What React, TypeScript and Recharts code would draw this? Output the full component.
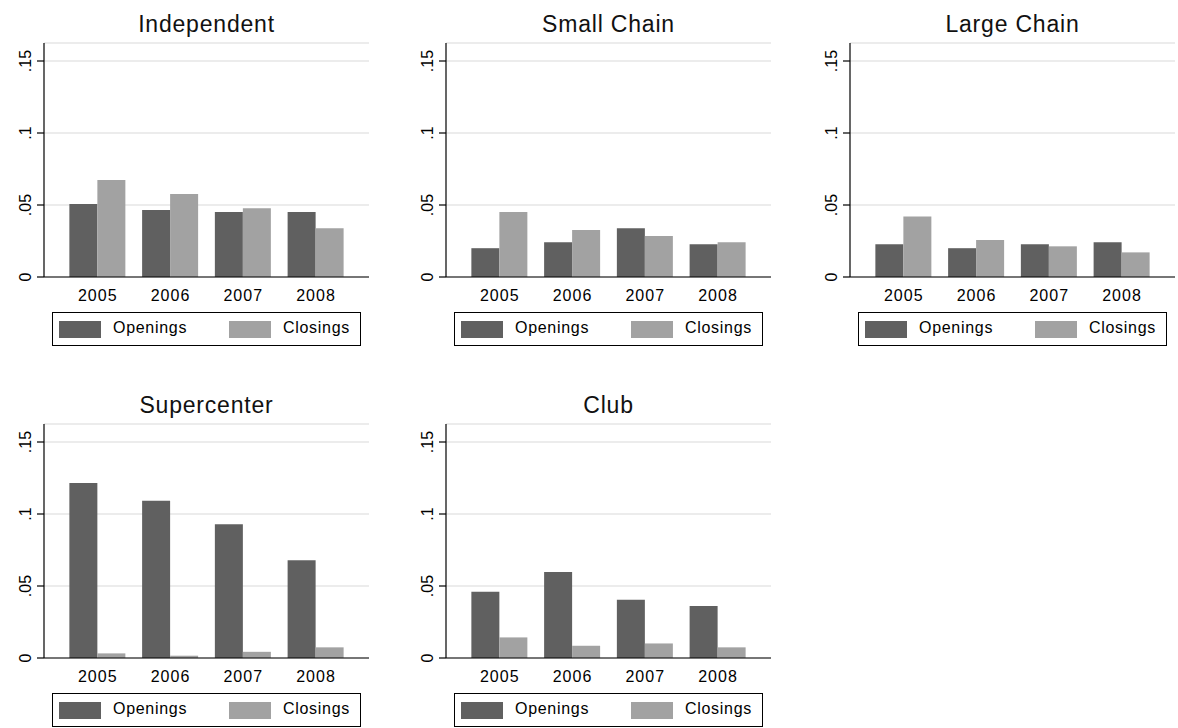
import { BarChart, Bar, XAxis, YAxis, CartesianGrid, Legend } from 'recharts';

const years = ['2005', '2006', '2007', '2008'];
const yTicks = [0, 0.05, 0.1, 0.15];
const yTickLabels = ['0', '.05', '.1', '.15'];
const seriesNames = ['Openings', 'Closings'];

const independentOpenings = [0.0507, 0.0465, 0.0451, 0.0451];
const independentClosings = [0.0674, 0.0576, 0.0477, 0.0338];
const smallChainOpenings = [0.02, 0.0241, 0.0338, 0.0227];
const smallChainClosings = [0.0451, 0.0326, 0.0285, 0.0241];
const largeChainOpenings = [0.0227, 0.02, 0.0227, 0.0241];
const largeChainClosings = [0.0421, 0.0257, 0.0213, 0.0171];
const supercenterOpenings = [0.1216, 0.1092, 0.0929, 0.0678];
const supercenterClosings = [0.0032, 0.0016, 0.0043, 0.0074];
const clubOpenings = [0.046, 0.0598, 0.0405, 0.0361];
const clubClosings = [0.0143, 0.0085, 0.0101, 0.0074];

const FONT = '"Liberation Sans", Arial, sans-serif';
const OPEN_COLOR = '#606060';
const CLOSE_COLOR = '#a2a2a2';

interface PanelProps {
  title: string;
  openings: number[];
  closings: number[];
  left: number;
  top: number;
}

const YTick = (props: any) => {
  const { x, y, payload } = props;
  const idx = yTicks.indexOf(payload.value);
  const tx = x - 6;
  return (
    <text x={tx} y={y} transform={`rotate(-90, ${tx}, ${y})`} textAnchor="middle" fontSize={16} fill="#000" fontFamily={FONT}>
      {idx >= 0 ? yTickLabels[idx] : payload.value}
    </text>
  );
};

const XTick = (props: any) => {
  const { x, y, payload } = props;
  return (
    <text x={x + 0.5} y={y + 24} textAnchor="middle" fontSize={16} letterSpacing={1.1} fill="#000" fontFamily={FONT}>
      {payload.value}
    </text>
  );
};

const LegendBox = (props: any) => {
  const items = [...(props.payload || [])].sort(
    (a: any, b: any) => seriesNames.indexOf(a.value) - seriesNames.indexOf(b.value)
  );
  const swatchX = [6, 176];
  const textX = [60, 230];
  return (
    <div style={{ position: 'relative', width: 309, height: 34, border: '1px solid #000', boxSizing: 'border-box', background: '#fff' }}>
      {items.map((item: any, i: number) => (
        <div key={item.value}>
          <div style={{ position: 'absolute', left: swatchX[i], top: 8, width: 42, height: 17, background: item.color }} />
          <div style={{ position: 'absolute', left: textX[i], top: 7, fontSize: 16, lineHeight: '16px', letterSpacing: 0.7, fontFamily: FONT, color: '#000', whiteSpace: 'nowrap' }}>
            {item.value}
          </div>
        </div>
      ))}
    </div>
  );
};

function Panel({ title, openings, closings, left, top }: PanelProps) {
  const data = years.map((year, i) => ({
    year,
    [seriesNames[0]]: openings[i],
    [seriesNames[1]]: closings[i],
  }));

  return (
    <div style={{ position: 'absolute', left, top, width: 390, height: 360 }}>
      <div style={{ position: 'absolute', left: 44, top: 13, width: 325, textAlign: 'center', fontSize: 23, lineHeight: '23px', letterSpacing: 0.8, color: '#111', fontFamily: FONT, whiteSpace: 'nowrap' }}>
        {title}
      </div>
      <BarChart width={390} height={360} data={data} margin={{ top: 43, right: 21, left: 0, bottom: 14 }} barCategoryGap="11.5%" barGap={0}>
        <CartesianGrid horizontal vertical={false} stroke="#e6e6e6" strokeWidth={1.5} />
        <XAxis
          dataKey="year"
          padding={{ left: 17, right: 17 }}
          height={35}
          tickLine={false}
          tickSize={0}
          tickMargin={0}
          axisLine={{ stroke: '#000', strokeWidth: 1.2 }}
          tick={<XTick />}
          interval={0}
        />
        <YAxis
          width={44}
          domain={[0, 0.1625]}
          ticks={yTicks}
          tickSize={7}
          tickMargin={0}
          tickLine={{ stroke: '#000', strokeWidth: 1.2 }}
          axisLine={{ stroke: '#000', strokeWidth: 1.2 }}
          tick={<YTick />}
          interval={0}
        />
        <Legend
          verticalAlign="bottom"
          content={<LegendBox />}
          wrapperStyle={{ left: 52, bottom: 14, width: 309, height: 34 }}
        />
        <Bar dataKey={seriesNames[0]} fill={OPEN_COLOR} isAnimationActive={false} />
        <Bar dataKey={seriesNames[1]} fill={CLOSE_COLOR} isAnimationActive={false} />
      </BarChart>
    </div>
  );
}

export default function App() {
  return (
    <div style={{ position: 'absolute', left: 0, top: 0, width: 1178, height: 728, overflow: 'hidden', background: '#fff', fontFamily: FONT }}>
      <Panel title="Independent" openings={independentOpenings} closings={independentClosings} left={0} top={0} />
      <Panel title="Small Chain" openings={smallChainOpenings} closings={smallChainClosings} left={402} top={0} />
      <Panel title="Large Chain" openings={largeChainOpenings} closings={largeChainClosings} left={806} top={0} />
      <Panel title="Supercenter" openings={supercenterOpenings} closings={supercenterClosings} left={0} top={381} />
      <Panel title="Club" openings={clubOpenings} closings={clubClosings} left={402} top={381} />
    </div>
  );
}
